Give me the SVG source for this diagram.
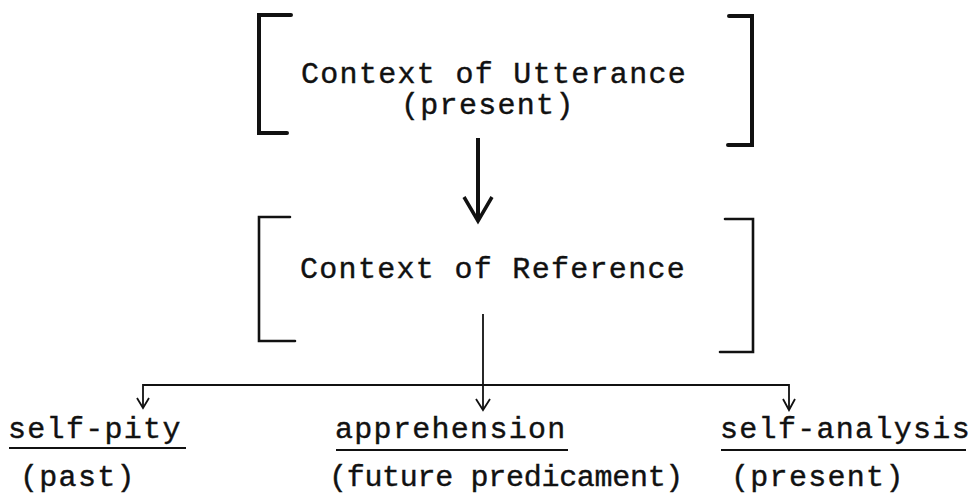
<svg xmlns="http://www.w3.org/2000/svg" width="976" height="495" viewBox="0 0 976 495">
  <defs>
    <style>
      .t { font-family: "Liberation Mono", "Courier New", monospace; font-size: 30px; letter-spacing: 1.3px; fill: #111; stroke: #111; stroke-width: 0.4px; }
      .tight { letter-spacing: -0.3px; }
      .br { fill: none; stroke: #111; stroke-linecap: round; stroke-linejoin: miter; }
      .heavy { stroke-width: 4; }
      .light { stroke-width: 2.6; }
      .ln { fill: none; stroke: #111; stroke-width: 1.8; }
      .ul { stroke: #111; stroke-width: 2.2; }
    </style>
  </defs>
  <rect width="976" height="495" fill="#fff"/>

  <!-- upper bracketed box: context of utterance -->
  <g id="utterance">
    <path class="br heavy" d="M291 15 L259 15 L259 133 L287 133"/>
    <path class="br heavy" d="M729 16 L752 16 L752 145 L728 145"/>
    <text class="t" x="301" y="83">Context of Utterance</text>
    <text class="t" x="401" y="114">(present)</text>
  </g>

  <!-- lower bracketed box: context of reference -->
  <g id="reference">
    <path class="br light" d="M290 217 L259 217 L259 341 L295 341"/>
    <path class="br light" d="M725 219 L753 219 L753 352 L720 352"/>
    <text class="t" x="300" y="278">Context of Reference</text>
  </g>

  <g id="self-pity">
    <text class="t" x="8" y="438">self-pity</text>
    <line class="ul" x1="9" y1="448" x2="186" y2="448"/>
    <text class="t" x="20" y="486">(past)</text>
  </g>

  <g id="apprehension">
    <text class="t" x="335" y="438">apprehension</text>
    <line class="ul" x1="336" y1="450" x2="568" y2="450"/>
    <text class="t tight" x="329" y="486">(future predicament)</text>
  </g>

  <g id="self-analysis">
    <text class="t" x="720" y="438">self-analysis</text>
    <line class="ul" x1="721" y1="450" x2="966" y2="450"/>
    <text class="t" x="731" y="486">(present)</text>
  </g>

  <!-- connectors -->
  <g id="connectors">
    <!-- heavy arrow between the two boxes -->
    <line x1="478" y1="138" x2="478" y2="220" stroke="#111" stroke-width="4"/>
    <path d="M464 197 L478 221 L492 197" fill="none" stroke="#111" stroke-width="3.5" stroke-linejoin="miter"/>

    <!-- branching arrow to the three outcomes -->
    <line class="ln" x1="483" y1="314" x2="483" y2="409"/>
    <path class="ln" d="M476 399 L483 410 L490 399"/>
    <path class="ln" d="M143 408 L143 385 L789 385 L789 409"/>
    <path class="ln" d="M137 398 L143 408 L149 398" stroke-width="2.4"/>
    <path class="ln" d="M783 399 L789 410 L795 399"/>
  </g>
</svg>
